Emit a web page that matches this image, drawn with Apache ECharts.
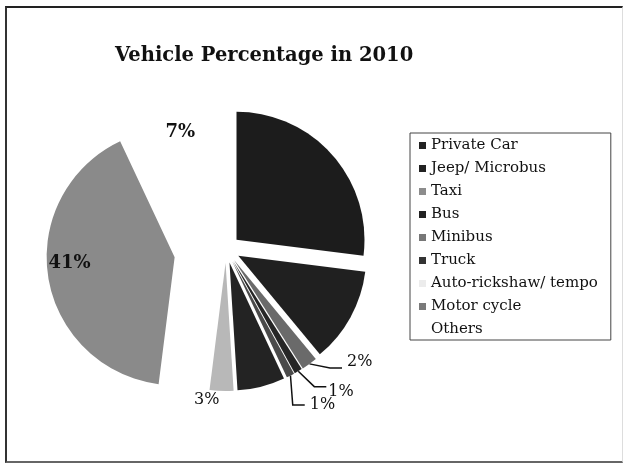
<!DOCTYPE html>
<html><head><meta charset="utf-8">
<script src="https://cdn.jsdelivr.net/npm/echarts@6/dist/echarts.min.js"></script>
<style>
html,body{margin:0;padding:0;background:#fff}
#wrap{position:relative;width:627px;height:465px}
#c{width:627px;height:465px}
#frame{position:absolute;left:5px;top:6px;width:618px;height:457px;box-sizing:border-box;border-top:2px solid #222;border-left:2px solid #333;border-bottom:2px solid #666;border-right:1px solid #ddd;pointer-events:none}
</style></head><body>
<div id="wrap"><div id="c"></div><div id="frame"></div></div>
<script>
// ---- data ----
const categories = ['Private Car','Jeep/ Microbus','Taxi','Bus','Minibus','Truck','Auto-rickshaw/ tempo','Motor cycle','Others'];
const percentages = [27, 12, 2, 1, 1, 6, 3, 41, 7];
const shownLabels = [false, false, true, true, true, false, true, true, true];

// ---- styles ----
const sliceColors = ['#1c1c1c','#202020','#6a6a6a','#262626','#4a4a4a','#232323','#b8b8b8','#8a8a8a','#ffffff'];
const legendColors = ['#222','#222','#8c8c8c','#222','#777','#333','#ececec','#7a7a7a','#ffffff'];
const SERIF = 'DejaVu Serif';
const pctFmt = p => p.value + '%';
// label nudges (style only), keyed by category name
const labelNudge = {'Motor cycle':[-39,-4], 'Others':[-28,-38], 'Auto-rickshaw/ tempo':[5,5], 'Taxi':[0,-6], 'Bus':[-3,5]};

function labelFor(i){
  if(!shownLabels[i]) return {label:{show:false}, labelLine:{show:false}};
  const name = categories[i];
  const big = {show:true, formatter:pctFmt, fontFamily:SERIF, fontWeight:'bold', fontSize:18, color:'#111'};
  const small = {show:true, formatter:pctFmt, position:'outside', fontFamily:SERIF, fontSize:16, color:'#111'};
  if(name === 'Motor cycle' || name === 'Others') return {label:Object.assign({}, big, {position:'inside'}), labelLine:{show:false}};
  if(name === 'Auto-rickshaw/ tempo') return {label:small, labelLine:{show:false, length:4, length2:2}};
  return {label:small, labelLine:{show:true, length:5, length2:12, lineStyle:{color:'#111', width:1.5}}};
}

function makeSeries(isVisible, offset){
  return {
    type:'pie', center:[226,249], radius:128, startAngle:90, clockwise:true,
    selectedMode:'multiple', selectedOffset:offset, avoidLabelOverlap:true,
    animation:false, silent:true,
    itemStyle:{borderWidth:0},
    labelLayout: function(p){
      const n = labelNudge[categories[p.dataIndex]];
      return n ? {dx:n[0], dy:n[1]} : {};
    },
    data: categories.map((name,i)=>{
      const vis = isVisible(i);
      const lab = vis ? labelFor(i) : {label:{show:false}, labelLine:{show:false}};
      return {name, value:percentages[i], selected:true,
        itemStyle:{color: vis ? sliceColors[i] : 'rgba(0,0,0,0)', borderWidth:0},
        label: lab.label, labelLine: lab.labelLine};
    })
  };
}

const chart = echarts.init(document.getElementById('c'), null, {renderer:'canvas'});
chart.setOption({
  backgroundColor:'#fff',
  animation:false,
  title:{text:'Vehicle Percentage in 2010', left:110, top:41,
    textStyle:{fontFamily:SERIF, fontWeight:'bold', fontSize:19.5, color:'#111'}},
  legend:{orient:'vertical', left:410, top:133, padding:[4,13,2,9],
    itemWidth:7, itemHeight:7, itemGap:6, icon:'rect', selectedMode:false,
    borderColor:'#444', borderWidth:1,
    textStyle:{fontFamily:SERIF, fontSize:15, color:'#111', lineHeight:17},
    data: categories.map((n,i)=>({name:n, itemStyle:{color:legendColors[i]}}))},
  series:[
    makeSeries(i => categories[i] !== 'Motor cycle', 14),
    makeSeries(i => categories[i] === 'Motor cycle', 52)
  ]
});
</script>
</body></html>
